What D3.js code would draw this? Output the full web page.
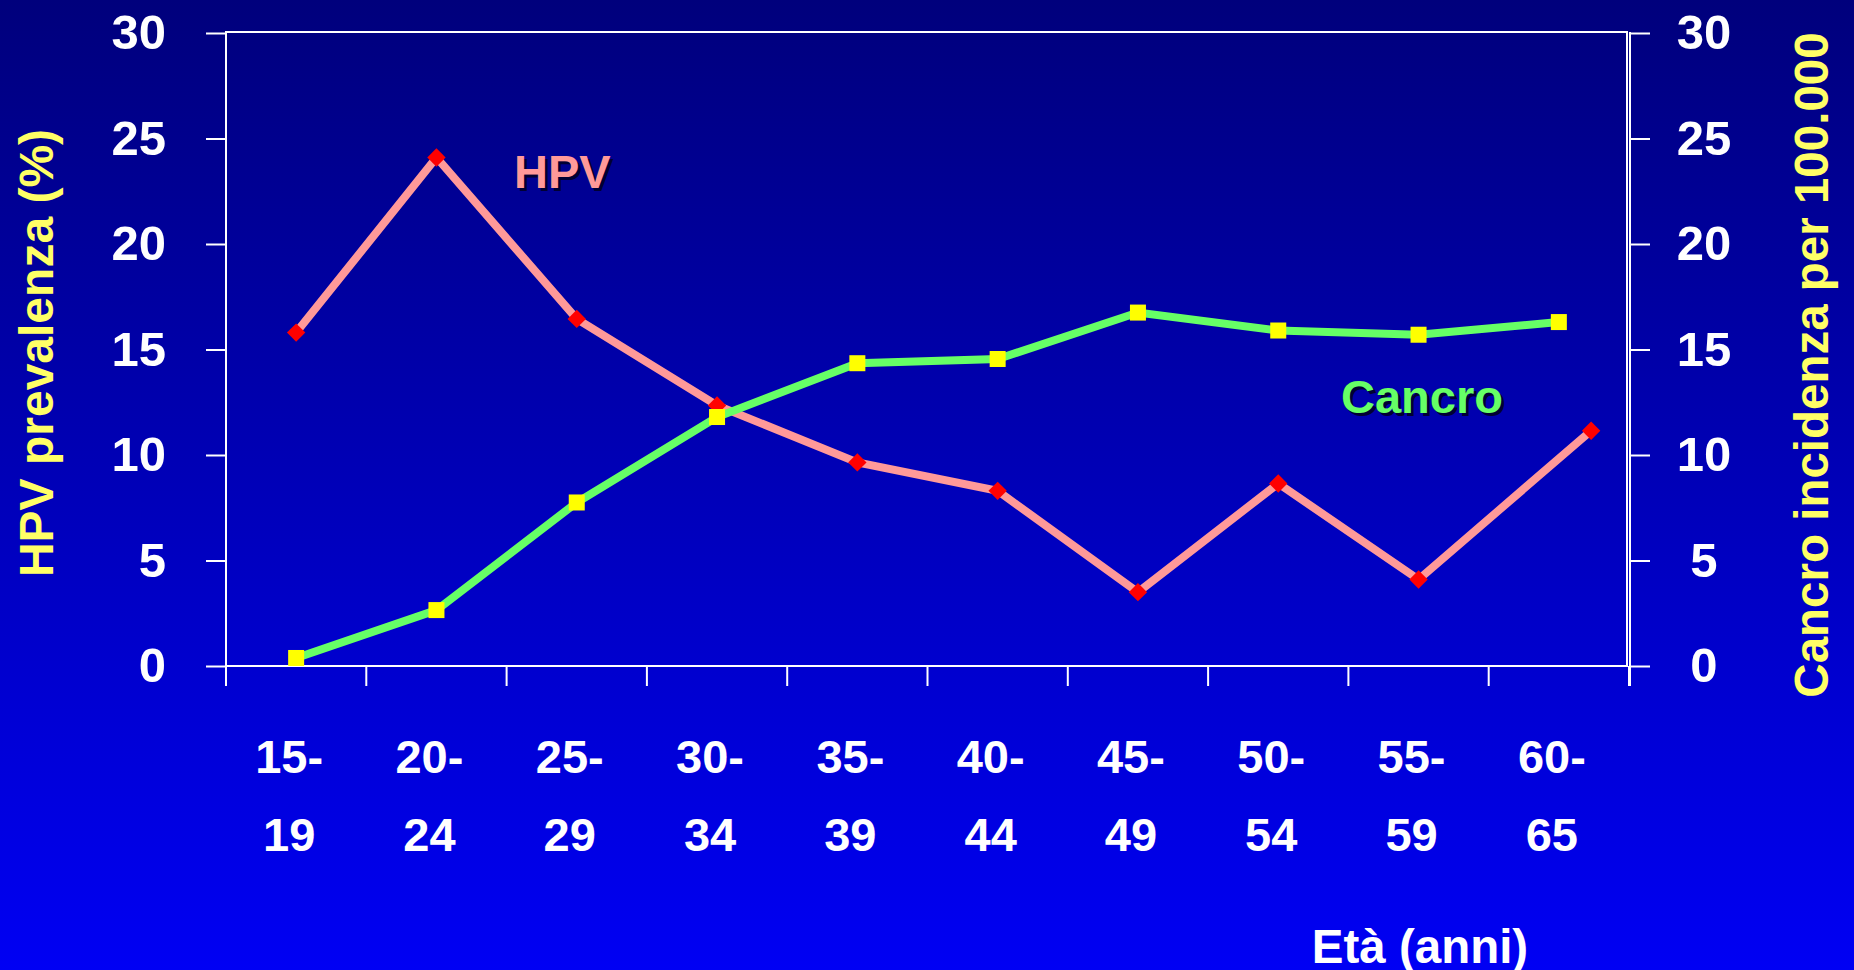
<html>
	<head>
		<title></title>
		<script type="text/javascript" src="https://d3js.org/d3.v7.min.js"></script>
		<style>
			body {
				margin: 0;
				overflow: hidden;
			}
			text {
				font-family: "Liberation Sans", Arial, sans-serif;
				font-weight: bold;
			}
		</style>
	</head>
	<body>
		<div></div>

		<script>
			//Age groups, shown on two lines under the axis
			var ages = ["15-19","20-24","25-29","30-34","35-39","40-44","45-49","50-54","55-59","60-65"];
			var ageTop = ["15-","20-","25-","30-","35-","40-","45-","50-","55-","60-"];
			var ageBottom = ["19","24","29","34","39","44","49","54","59","65"];

			//HPV prevalence (%) - left axis
			var hpv = [15.8,24.1,16.45,12.35,9.65,8.3,3.5,8.65,4.1,11.15];
			//last point sits a bit right of its group in the original
			var hpvShift = [0,0,0,0,0,0,0,0,0,0.23];
			//Cancer incidence per 100.000 - right axis
			var cancro = [0.38,2.65,7.75,11.8,14.35,14.55,16.75,15.9,15.7,16.3];

			var yTicks = [0,5,10,15,20,25,30];

			var width = 1854;
			var height = 970;

			//plot box (window.top is read only, so no "top" here)
			var plotLeft = 226, plotRight = 1629, plotTop = 33, plotBottom = 666;

			var canvas = d3.select("div").append("svg")
							.attr("width",width)
							.attr("height",height);

			//background gradient
			var grad = canvas.append("defs").append("linearGradient")
							.attr("id","bg").attr("x1",0).attr("y1",0).attr("x2",0).attr("y2",1);
			grad.append("stop").attr("offset","0%").attr("stop-color","#00007c");
			grad.append("stop").attr("offset","100%").attr("stop-color","#0000f4");
			canvas.append("rect").attr("width",width).attr("height",height).attr("fill","url(#bg)");

			//scales
			var xScale = d3.scaleBand().domain(ages).range([plotLeft,plotRight]);
			var yLeft = d3.scaleLinear().domain([0,30]).range([plotBottom,plotTop]);
			var yRight = d3.scaleLinear().domain([0,30]).range([plotBottom,plotTop]);
			var bw = xScale.bandwidth();

			//plot frame
			canvas.append("rect").attr("x",plotLeft).attr("y",plotTop-1)
					.attr("width",plotRight-plotLeft-2).attr("height",plotBottom-plotTop+1)
					.attr("fill","none").attr("stroke","white").attr("stroke-width",2);

			//left axis
			var axisLeft = canvas.append("g").attr("transform","translate("+plotLeft+",0)")
					.call(d3.axisLeft(yLeft).tickValues(yTicks).tickSize(20).tickPadding(40));
			//right axis
			var axisRight = canvas.append("g").attr("transform","translate("+(plotRight+1)+",0)")
					.call(d3.axisRight(yRight).tickValues(yTicks).tickSize(20).tickPadding(50));
			[axisLeft,axisRight].forEach(function(a){
				a.select(".domain").remove();
				a.selectAll("line").attr("stroke","white").attr("stroke-width",2);
				a.selectAll("text").attr("fill","white").style("font-size","49px")
					.style("font-family","'Liberation Sans', Arial, sans-serif").style("font-weight","bold");
			});
			axisRight.selectAll("text").attr("text-anchor","middle").attr("x",74);

			//vertical axis lines running down past the bottom
			canvas.append("line").attr("x1",plotLeft).attr("x2",plotLeft).attr("y1",plotTop-1).attr("y2",plotBottom+20)
					.attr("stroke","white").attr("stroke-width",2);
			canvas.append("line").attr("x1",plotRight+1).attr("x2",plotRight+1).attr("y1",plotTop-1).attr("y2",plotBottom+20)
					.attr("stroke","white").attr("stroke-width",2);

			//bottom ticks at the group edges
			var edges = ages.map(function(d){ return xScale(d); }).concat([plotRight]);
			canvas.append("g").selectAll("line").data(edges).enter().append("line")
					.attr("x1",function(d){ return d; }).attr("x2",function(d){ return d; })
					.attr("y1",plotBottom).attr("y2",plotBottom+20)
					.attr("stroke","white").attr("stroke-width",2);

			//age labels
			var labels = canvas.append("g").selectAll("text").data(ages).enter().append("text")
					.attr("text-anchor","middle").attr("fill","white").style("font-size","47px");
			labels.append("tspan").attr("x",function(d){ return xScale(d)+bw/2 - 7; }).attr("y",773)
					.text(function(d,i){ return ageTop[i]; });
			labels.append("tspan").attr("x",function(d){ return xScale(d)+bw/2 - 7; }).attr("y",851)
					.text(function(d,i){ return ageBottom[i]; });

			//lines
			var hpvLine = d3.line()
					.x(function(d,i){ return xScale(ages[i])+bw/2 + hpvShift[i]*bw; })
					.y(function(d){ return yLeft(d); });
			var cancroLine = d3.line()
					.x(function(d,i){ return xScale(ages[i])+bw/2; })
					.y(function(d){ return yRight(d); });

			canvas.append("path").datum(hpv).attr("d",hpvLine)
					.attr("fill","none").attr("stroke","#ff9999").attr("stroke-width",8);
			canvas.append("path").datum(cancro).attr("d",cancroLine)
					.attr("fill","none").attr("stroke","#66ff66").attr("stroke-width",8);

			//markers
			canvas.append("g").selectAll("rect").data(hpv).enter().append("rect")
					.attr("width",13).attr("height",13).attr("x",-6.5).attr("y",-6.5)
					.attr("transform",function(d,i){
						return "translate("+(xScale(ages[i])+bw/2+hpvShift[i]*bw)+","+yLeft(d)+") rotate(45)";
					})
					.attr("fill","#ff0000");
			canvas.append("g").selectAll("rect").data(cancro).enter().append("rect")
					.attr("width",16).attr("height",16)
					.attr("x",function(d,i){ return xScale(ages[i])+bw/2-8; })
					.attr("y",function(d){ return yRight(d)-8; })
					.attr("fill","#ffff00");

			//series names with a dark shadow
			function shadowText(txt,x,y,color){
				canvas.append("text").attr("x",x+3).attr("y",y+3).attr("fill","#000033")
						.style("font-size","47px").text(txt);
				canvas.append("text").attr("x",x).attr("y",y).attr("fill",color)
						.style("font-size","47px").text(txt);
			}
			shadowText("HPV",514,188,"#ff9999");
			shadowText("Cancro",1341,413,"#66ff66");

			//axis titles
			canvas.append("text").attr("transform","translate(53,353) rotate(-90)")
					.attr("text-anchor","middle").attr("fill","#ffff66").style("font-size","48px")
					.text("HPV prevalenza (%)");
			canvas.append("text").attr("transform","translate(1828,365) rotate(-90)")
					.attr("text-anchor","middle").attr("fill","#ffff66").style("font-size","47.5px")
					.text("Cancro incidenza per 100.000");
			canvas.append("text").attr("x",1420).attr("y",963)
					.attr("text-anchor","middle").attr("fill","white").style("font-size","47.5px")
					.text("Età (anni)");
		</script>
	</body>
</html>
